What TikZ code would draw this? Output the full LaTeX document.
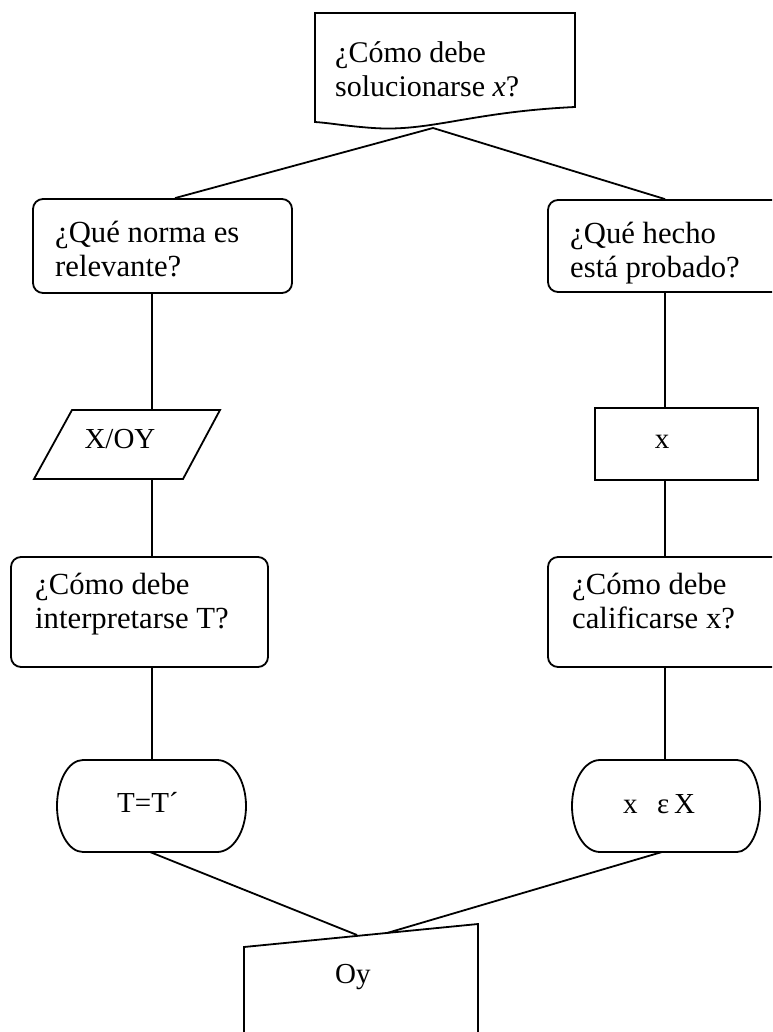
\documentclass[tikz,border=0pt]{standalone}
\usepackage{fontspec}
\setmainfont{Liberation Serif}
\tikzset{
  ln/.style={line width=1.8pt},
  rbox/.style={draw, line width=1.8pt, rounded corners=10pt, inner sep=0pt},
  sbox/.style={draw, line width=1.8pt, inner sep=0pt},
  txt/.style={inner sep=0pt, anchor=base west, align=left, font=\fontsize{29}{34}\selectfont},
  qtxt/.style={inner sep=0pt, anchor=base west, align=left, font=\fontsize{30.7}{34}\selectfont},
  ttxt/.style={inner sep=0pt, anchor=base west, align=left, font=\fontsize{30}{34}\selectfont},
  ctxt/.style={inner sep=0pt, anchor=base, font=\fontsize{29}{34}\selectfont},
}
\begin{document}
\begin{tikzpicture}[x=1pt,y=-1pt]
\useasboundingbox (0,0) rectangle (772,1032);
\clip (0,0) rectangle (772,1032);
% column coordinates
\coordinate (Lc) at (152,0);
\coordinate (Rc) at (665,0);
\coordinate (Lt) at (175,0);
% top document shape
\draw[ln] (315,13) -- (575,13) -- (575,107) .. controls (470,112) and (430,132) .. (373,128) .. controls (345,126) and (330,123) .. (315,122) -- cycle;
\coordinate (dj) at (433,128);
\node[ttxt] (t0) at (335,97) {¿Cómo debe\\solucionarse \textit{x}?};
% first row
\node[rbox, minimum width=259pt, minimum height=94pt] (q1) at (162.5,246) {};
\node[qtxt] (t1) at (55,276) {¿Qué norma es\\relevante?};
\node[rbox, minimum width=272pt, minimum height=92pt] (r1) at (684,246) {};
\node[qtxt] (t2) at (570,277) {¿Qué hecho\\está probado?};
% second row
\draw[ln] (72,410) -- (220,410) -- (183,479) -- (34,479) -- cycle;
\coordinate (pn) at (152,410);
\coordinate (ps) at (152,479);
\node[ctxt] (t3) at (120,448) {X/OY};
\node[sbox, minimum width=163pt, minimum height=72pt] (xb) at (676.5,444) {};
\node[ctxt] (t4) at (662,448) {x};
% third row
\node[rbox, minimum width=257pt, minimum height=110pt] (q2) at (139.5,612) {};
\node[qtxt] (t5) at (35,628) {¿Cómo debe\\interpretarse T?};
\node[rbox, minimum width=272pt, minimum height=110pt] (r2) at (684,612) {};
\node[qtxt] (t6) at (572,628) {¿Cómo debe\\calificarse x?};
% terminators
\draw[ln] (83,760) -- (217,760) arc[start angle=-90, end angle=90, x radius=29, y radius=46] -- (83,852) arc[start angle=90, end angle=270, x radius=26, y radius=46] -- cycle;
\coordinate (tln) at (152,760);
\coordinate (tls) at (150,852);
\node[txt] (t7) at (117,812) {T=T´};
\draw[ln] (600,760) -- (737,760) arc[start angle=-90, end angle=90, x radius=23, y radius=46] -- (600,852) arc[start angle=90, end angle=270, x radius=28, y radius=46] -- cycle;
\coordinate (trn) at (665,760);
\coordinate (trs) at (662,852);
\node[txt] (t8) at (623,813) {x\ \ \,ε\,X};
% bottom manual input shape
\draw[ln] (244,1050) -- (244,947) -- (478,924) -- (478,1050);
\coordinate (oyL) at (357,935);
\coordinate (oyR) at (387,933);
\node[txt] (t9) at (335,983) {Oy};
% connectors
\draw[ln] (dj) -- (q1.north -| Lt);
\draw[ln] (dj) -- (r1.north -| Rc);
\draw[ln] (q1.south -| Lc) -- (pn);
\draw[ln] (ps) -- (q2.north -| Lc);
\draw[ln] (q2.south -| Lc) -- (tln);
\draw[ln] (r1.south -| Rc) -- (xb.north -| Rc);
\draw[ln] (xb.south -| Rc) -- (r2.north -| Rc);
\draw[ln] (r2.south -| Rc) -- (trn);
\draw[ln] (tls) -- (oyL);
\draw[ln] (trs) -- (oyR);
\end{tikzpicture}
\end{document}
